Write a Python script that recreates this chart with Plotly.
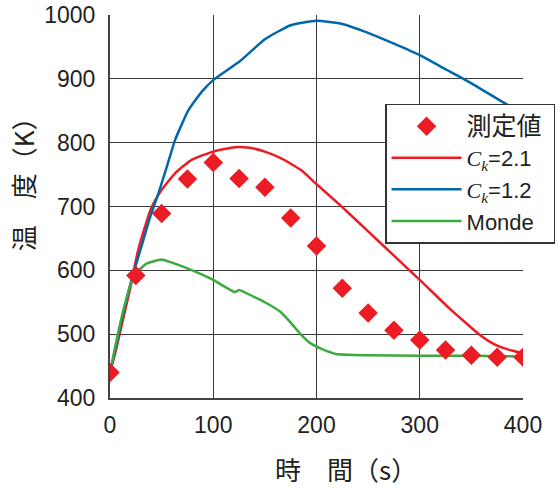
import plotly.graph_objects as go

# measured values
meas_t = [0, 25, 50, 75, 100, 125, 150, 175, 200, 225, 250, 275, 300, 325, 350, 375, 400]
meas_T = [440, 592, 689, 743, 769, 744, 730, 682, 638, 572, 533, 506, 491, 475, 467, 464, 464]

# Ck = 2.1
red_t = [0, 5, 10, 20, 27, 35, 40, 50, 63, 79, 100, 121, 135, 150, 165, 175, 185, 200, 225, 250, 275, 300, 329, 345, 358, 368, 378, 390, 400]
red_T = [440, 470, 505, 575, 630, 674, 698, 726, 752, 773, 786, 793, 792, 786, 776, 767, 757, 735, 699, 661, 623, 585, 540, 517, 499, 488, 480, 474, 470]

# Ck = 1.2
blue_t = [0, 5, 10, 20, 30, 39, 47, 55, 63, 76, 89, 100, 126, 150, 175, 200, 225, 250, 275, 300, 325, 350, 380, 400]
blue_T = [440, 475, 512, 580, 635, 684, 721, 762, 804, 851, 880, 898, 928, 962, 984, 991, 986, 972, 955, 937, 915, 893, 864, 845]

# Monde
green_t = [0, 5, 13, 20, 25, 35, 50, 60, 75, 100, 121, 125, 140, 150, 165, 175, 184, 194, 205, 219, 250, 300, 350, 400]
green_T = [440, 480, 538, 578, 595, 610, 617, 612, 603, 585, 566, 569, 558, 550, 535, 518, 501, 486, 477, 469, 467, 466, 466, 465]

x_ticks = [0, 100, 200, 300, 400]
y_ticks = [400, 500, 600, 700, 800, 900, 1000]

RED = "#ED1C24"
BLUE = "#0068A8"
GREEN = "#3BAA3F"
FONT = "Liberation Sans, Arial, Noto Sans CJK JP, sans-serif"
CJK = "Noto Sans CJK JP, Liberation Sans, sans-serif"
CK = "<span style=\"font-family:'Liberation Serif',serif\"><i>C</i><sub><i>k</i></sub></span>"

fig = go.Figure()
fig.add_trace(go.Scatter(x=red_t, y=red_T, mode="lines", name=CK + "=2.1",
                         line=dict(color=RED, width=2.5, shape="spline", smoothing=0.5), legendrank=2))
fig.add_trace(go.Scatter(x=blue_t, y=blue_T, mode="lines", name=CK + "=1.2",
                         line=dict(color=BLUE, width=2.5, shape="spline", smoothing=0.5), legendrank=3))
fig.add_trace(go.Scatter(x=green_t, y=green_T, mode="lines", name="Monde",
                         line=dict(color=GREEN, width=2.5, shape="spline", smoothing=0.5), legendrank=4))
fig.add_trace(go.Scatter(x=meas_t, y=meas_T, mode="markers",
                         name="<span style=\"font-size:25px\">測定値</span>&nbsp;",
                         marker=dict(symbol="diamond", size=15, color=RED, line=dict(width=0)),
                         legendrank=1))

fig.update_layout(
    width=559, height=490,
    margin=dict(l=110, r=36, t=15, b=92, autoexpand=False),
    paper_bgcolor="white", plot_bgcolor="white",
    font=dict(family=FONT, size=22, color="#231F20"),
    showlegend=True,
    legend=dict(x=0.666, y=0.768, xanchor="left", yanchor="top",
                bgcolor="white", bordercolor="#333333", borderwidth=1.5,
                font=dict(size=22, family=FONT), itemwidth=70,
                tracegroupgap=0),
    annotations=[
        dict(text="温　度（K）", xref="paper", yref="paper", x=-0.213, y=0.574,
             showarrow=False, textangle=-90, font=dict(size=26, family=CJK),
             xanchor="center", yanchor="middle"),
        dict(text="時　間（s）", xref="paper", yref="paper", x=0.571, y=-0.183,
             showarrow=False, font=dict(size=26, family=CJK), xanchor="center", yanchor="middle"),
    ],
)
fig.update_xaxes(range=[0, 400], tickvals=x_ticks, showgrid=True, gridcolor="#3a3a3a", gridwidth=1.3,
                 showline=True, linecolor="#444444", linewidth=2, zeroline=False, automargin=False,
                 ticks="", tickfont=dict(size=23), ticklabelstandoff=5)
fig.update_yaxes(range=[400, 1000], tickvals=y_ticks, showgrid=True, gridcolor="#3a3a3a", gridwidth=1.3,
                 showline=True, linecolor="#444444", linewidth=2, zeroline=False, automargin=False,
                 ticks="", tickfont=dict(size=23), ticklabelstandoff=8)

fig.write_html("out.html", config={"displayModeBar": False},
               post_script="document.body.style.margin='0';")
